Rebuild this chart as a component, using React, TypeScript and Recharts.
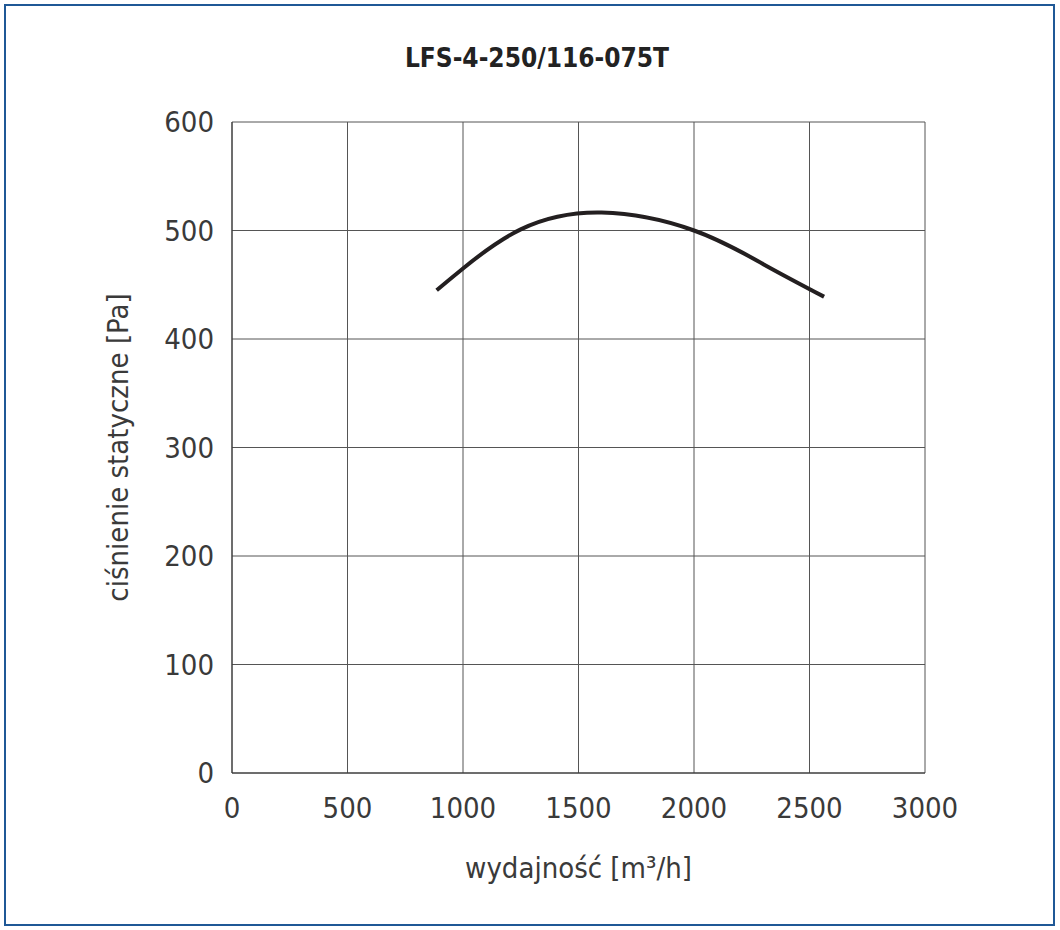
import { LineChart, Line, XAxis, YAxis, CartesianGrid, Label } from 'recharts';

// odczyt z wykresu producenta
const flow = [886, 1000, 1250, 1600, 2000, 2300, 2563];
const pressure = [445, 465, 501, 516.5, 500, 469, 439];

const xTicks = [0, 500, 1000, 1500, 2000, 2500, 3000];
const yTicks = [0, 100, 200, 300, 400, 500, 600];

const title = 'LFS-4-250/116-075T';

const font = '"DejaVu Sans Condensed", "DejaVu Sans", sans-serif';

const data = flow.map((q, i) => ({ q, p: pressure[i] }));

export default function App() {
  const tick = { fontSize: 29, fill: '#3a3a3a', fontFamily: font };

  return (
    <div style={{ position: 'absolute', left: 0, top: 0, width: 1060, height: 930, background: '#fff' }}>
      <div
        style={{
          position: 'absolute',
          left: 4,
          top: 4,
          width: 1051,
          height: 922,
          boxSizing: 'border-box',
          border: '2.5px solid #1f5896',
        }}
      />
      <div
        style={{
          position: 'absolute',
          left: 0,
          width: 1074,
          top: 43,
          textAlign: 'center',
          fontFamily: font,
          fontWeight: 'bold',
          fontSize: 26,
          color: '#222',
        }}
      >
        {title}
      </div>
      <LineChart
        width={1060}
        height={930}
        data={data}
        margin={{ top: 122, right: 135, bottom: 0, left: 4 }}
        style={{ position: 'absolute', left: 0, top: 0 }}
      >
        <CartesianGrid stroke="#555" strokeWidth={1} />
        <XAxis
          dataKey="q"
          type="number"
          domain={[0, 3000]}
          ticks={xTicks}
          height={157}
          tickSize={0}
          tickMargin={24}
          axisLine={{ stroke: '#333' }}
          tick={tick}
        >
          <Label
            value="wydajność [m³/h]"
            position="insideBottom"
            offset={52}
            style={{ fontSize: 29, fill: '#3a3a3a', fontFamily: font }}
          />
        </XAxis>
        <YAxis
          type="number"
          domain={[0, 600]}
          ticks={yTicks}
          width={228}
          tickSize={0}
          tickMargin={18}
          axisLine={{ stroke: '#333' }}
          tick={tick}
        >
          <Label
            value="ciśnienie statyczne [Pa]"
            angle={-90}
            position="center"
            style={{ fontSize: 29, fill: '#3a3a3a', fontFamily: font, textAnchor: 'middle' }}
          />
        </YAxis>
        <Line
          dataKey="p"
          type="natural"
          stroke="#231f20"
          strokeWidth={4}
          dot={false}
          isAnimationActive={false}
        />
      </LineChart>
    </div>
  );
}
